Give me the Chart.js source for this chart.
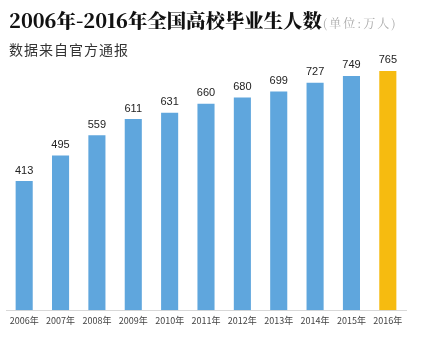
<!DOCTYPE html>
<html><head><meta charset="utf-8">
<script src="https://cdn.jsdelivr.net/npm/chart.js@4/dist/chart.umd.min.js"></script>
<style>
html,body{margin:0;padding:0;background:#fff;}
#wrap{position:relative;width:421px;height:343px;overflow:hidden;}
#title{position:absolute;left:9px;top:6px;font-family:"Noto Serif CJK SC","Noto Sans CJK SC",serif;font-weight:900;font-size:19.4px;color:#111;white-space:nowrap;letter-spacing:0px;}
#title span{font-weight:400;font-size:12px;color:#aaa;letter-spacing:2px;margin-left:1px;}
#sub{position:absolute;left:9px;top:39px;font-family:"Noto Sans CJK SC",sans-serif;font-size:14px;color:#333;letter-spacing:1px;}
canvas{position:absolute;left:0;top:0;}
</style></head>
<body><div id="wrap">
<canvas id="c" width="421" height="343"></canvas>
<div id="title">2006年-2016年全国高校毕业生人数<span>(单位:万人)</span></div>
<div id="sub">数据来自官方通报</div>
</div>
<script>
const years = ["2006年","2007年","2008年","2009年","2010年","2011年","2012年","2013年","2014年","2015年","2016年"];
const graduates = [413,495,559,611,631,660,680,699,727,749,765];
const barColors = ["#5fa6dd","#5fa6dd","#5fa6dd","#5fa6dd","#5fa6dd","#5fa6dd","#5fa6dd","#5fa6dd","#5fa6dd","#5fa6dd","#f6bb10"];

const valueLabels = {
  id:'valueLabels',
  afterDatasetsDraw(chart){
    const ctx = chart.ctx;
    const meta = chart.getDatasetMeta(0);
    ctx.save();
    ctx.font = '11px "Liberation Sans", Arial, sans-serif';
    ctx.fillStyle = '#222';
    ctx.textAlign = 'center';
    ctx.textBaseline = 'bottom';
    meta.data.forEach((bar,i)=>{
      ctx.fillText(String(graduates[i]), bar.x, bar.y - 5);
    });
    ctx.restore();
  }
};

new Chart(document.getElementById('c'), {
  type:'bar',
  data:{labels:years,datasets:[{data:graduates,backgroundColor:barColors,borderWidth:0,categoryPercentage:1,barPercentage:0.47}]},
  options:{
    responsive:false,animation:false,
    layout:{padding:{left:6,right:15,top:60,bottom:12}},
    plugins:{legend:{display:false},tooltip:{enabled:false},title:{display:false}},
    scales:{
      y:{display:false,min:0,max:800},
      x:{
        grid:{display:false,drawTicks:false},
        border:{display:true,color:'#d8d8d8',width:1},
        ticks:{color:'#444',font:{size:9,family:'"Noto Sans CJK SC", sans-serif'},padding:5,maxRotation:0,autoSkip:false}
      }
    }
  },
  plugins:[valueLabels]
});
</script>
</body></html>
